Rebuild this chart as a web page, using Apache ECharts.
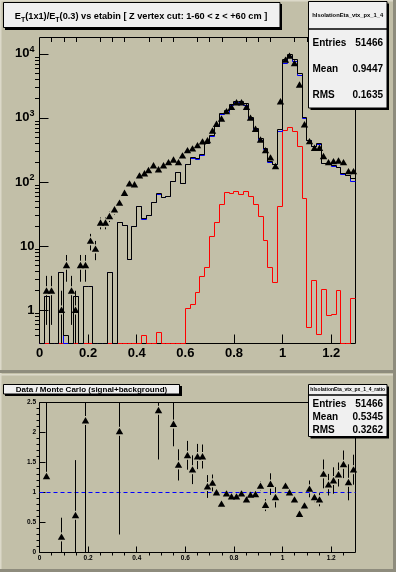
<!DOCTYPE html>
<html><head><meta charset="utf-8">
<script src="https://cdn.jsdelivr.net/npm/echarts@6/dist/echarts.min.js"></script>
<style>html,body{margin:0;padding:0;background:#c2bfa8;}#c{width:396px;height:572px;}</style>
</head><body><div id="c"></div>
<script>
const FONT = '"Liberation Sans", Arial, Helvetica, sans-serif';

// binning of the eta-bin histograms
const xMin = 0, xMax = 1.3, binWidth = 0.02;

// data counts per bin (0 = empty bin)
const dataCounts = [0, 2, 2, 0, 1, 5, 2, 1, 5, 5, 12, 9, 23, 23, 29, 37, 47, 67, 94, 91,
  125, 135, 152, 180, 156, 180, 202, 222, 202, 257, 310, 330, 372, 425, 445, 630, 800, 968, 1260, 1470,
  1740, 1740, 1480, 1000, 669, 456, 310, 239, 175, 1800, 8040, 9270, 7130, 3280, 789, 429, 338, 338, 251, 202,
  209, 214, 202, 146, 146];

// Monte Carlo total (signal+background), black
const mcTotal = [0, 1.65, 0, 0, 3.8, 0.4, 0, 1.65, 0, 2.35, 2.35, 0, 0, 0, 3.8, 0, 23, 20.6, 6.1, 20,
  41, 26.5, 30, 47, 65, 58, 60, 102, 138, 93, 188, 237, 230, 265, 405, 530, 760, 1160, 1290, 1620,
  1800, 1780, 1650, 1030, 692, 470, 330, 209, 188, 653, 8240, 9700, 8200, 5000, 1020, 440, 360, 392, 193, 190,
  178, 170, 133, 128, 112];

// Monte Carlo background, blue
const mcBackground = [0, 1.65, 0, 0, 3.8, 0, 0, 1.65, 0, 2.35, 2.35, 0, 0, 0, 3.8, 0, 23, 20.6, 6.1, 20,
  41, 25.5, 30, 47, 64, 58, 60, 102, 138, 93, 186, 235, 226, 260, 400, 515, 735, 1110, 1220, 1560,
  1720, 1710, 1580, 970, 650, 440, 318, 203, 185, 612, 6960, 8950, 7560, 4580, 968, 436, 357, 390, 191, 187,
  173, 168, 131, 126, 101];

// Monte Carlo signal, red
const mcSignal = [0, 0, 0, 0, 0, 0, 0, 0, 0, 0, 0, 0, 0, 0, 0, 0, 0, 0, 0, 0,
  0, 0.4, 0, 0, 0.45, 0, 0, 0, 0, 0, 1.05, 1.21, 1.87, 3.3, 4.6, 14, 23, 44, 68, 65,
  72, 63, 72, 59, 44, 28.5, 12, 4.6, 2.7, 41, 637, 718, 614, 359, 56, 0.54, 2.9, 0.42, 2.1, 0.81,
  0.85, 2.03, 0, 0, 1.52];

// Data / Monte Carlo ratio
const ratioX = [0.03, 0.09, 0.15, 0.19, 0.33, 0.49, 0.55, 0.57, 0.61, 0.63, 0.65, 0.67, 0.69, 0.71, 0.73, 0.75,
  0.77, 0.79, 0.81, 0.83, 0.85, 0.87, 0.89, 0.91, 0.93, 0.95, 0.97, 1.01, 1.03, 1.05, 1.07, 1.09,
  1.11, 1.13, 1.15, 1.17, 1.19, 1.21, 1.23, 1.25, 1.27, 1.29];
const ratioVal = [1.27, 0.26, 0.62, 2.2, 2.02, 2.37, 2.14, 1.46, 1.62, 1.38, 1.6, 1.6, 1.1, 1.16, 1.0, 0.81,
  0.98, 0.93, 0.93, 0.98, 0.88, 0.96, 0.97, 1.11, 0.79, 1.14, 0.92, 1.11, 1.0, 0.88, 0.64, 0.78,
  1.06, 0.92, 0.88, 1.31, 1.13, 1.2, 1.3, 1.47, 1.17, 1.38];
const ratioErrLow = [0.05, 0.32, 0.92, 2.3, 1.72, 0.82, 0.37, 0.26, 0.24, 0.24, 0.21, 0.2, 0.19, 0.14, 0.07, 0.06,
  0.05, 0.04, 0.04, 0.04, 0.05, 0.05, 0.06, 0.08, 0.1, 0.18, 0.17, 0.07, 0.03, 0.03, 0.03, 0.05,
  0.14, 0.08, 0.11, 0.24, 0.18, 0.22, 0.2, 0.23, 0.3, 0.25];
const ratioErrHigh = [1.5, 0.32, 0.92, 2.3, 1.72, 0.82, 0.37, 0.26, 0.24, 0.24, 0.21, 0.2, 0.19, 0.14, 0.07, 0.06,
  0.05, 0.04, 0.04, 0.04, 0.05, 0.05, 0.06, 0.08, 0.1, 0.18, 0.17, 0.07, 0.03, 0.03, 0.03, 0.05,
  0.14, 0.08, 0.11, 0.24, 0.18, 0.22, 0.2, 0.23, 0.3, 0.25];

// axis ticks / labels
const xMajorTicks = [0, 0.2, 0.4, 0.6, 0.8, 1.0, 1.2];
const yLogMajorTicks = [1, 10, 100, 1000, 10000];
const ratioMajorTicks = [0, 0.5, 1, 1.5, 2, 2.5];
const topYMin = 0.3, topYMax = 18000;
const ratioYMin = 0, ratioYMax = 2.5;

// texts
const topTitle = '{n|E}{t|T}{n|(1x1)/E}{t|T}{n|(0.3) vs etabin [ Z vertex cut: 1-60 < z < +60 cm ]}';
const bottomTitle = 'Data / Monte Carlo (signal+background)';
const topStats = {name: 'hIsolationEta_vtx_px_1_4', rows: [['Entries', '51466'], ['Mean', '0.9447'], ['RMS', '0.1635']]};
const botStats = {name: 'hIsolationEta_vtx_px_1_4_ratio', rows: [['Entries', '51466'], ['Mean', '0.5345'], ['RMS', '0.3262']]};

// ---------- helpers ----------
function r4(v) { return Math.round(v * 10000) / 10000; }
function histItems(vals, floor) {
  return vals.map((v, i) => [r4(xMin + i * binWidth), r4(xMin + (i + 1) * binWidth),
    v > 0 ? v : floor, i > 0 && vals[i - 1] > 0 ? vals[i - 1] : floor]);
}
const snap = v => Math.floor(v) + 0.5;
function histRender(color) {
  return function (params, api) {
    const cs = params.coordSys;
    const bot = cs.y + cs.height;
    const a = api.coord([api.value(0), api.value(2)]);
    const b = api.coord([api.value(1), api.value(2)]);
    const p = api.coord([api.value(0), api.value(3)]);
    const y = snap(Math.min(a[1], bot)), yp = snap(Math.min(p[1], bot));
    const xa = snap(a[0]), xb = snap(b[0]);
    return {type: 'polyline', shape: {points: [[xa, yp], [xa, y], [xb, y]]},
      style: {stroke: color, lineWidth: 1, fill: null}};
  };
}

const xMinorTicks = [];
for (let k = 1; k < 26; k++) { const v = r4(k * 0.05); if (k % 4 !== 0) xMinorTicks.push(v); }
const yLogMinorTicks = [];
for (let d = -1; d <= 4; d++) for (let m = 2; m <= 9; m++) { const v = r4(m * Math.pow(10, d)); if (v > topYMin && v < topYMax) yLogMinorTicks.push(v); }
const ratioMinorTicks = [];
for (let k = 1; k < 25; k++) { if (k % 5 !== 0) ratioMinorTicks.push(r4(k * 0.1)); }

const dataPoints = [];
dataCounts.forEach((n, i) => { if (n > 0) { const e = Math.sqrt(n); dataPoints.push([r4(xMin + (i + 0.5) * binWidth), n, e, e]); } });
const ratioPoints = ratioX.map((x, i) => [x, ratioVal[i], ratioErrLow[i], ratioErrHigh[i]]);

function markerRender(params, api, ymin) {
  const cs = params.coordSys;
  const x = api.value(0), y = api.value(1), el = api.value(2), eh = api.value(3);
  const c = api.coord([x, y]);
  const top = cs.y, bot = cs.y + cs.height;
  let yHi = api.coord([x, y + eh])[1];
  let yLo = (y - el) > ymin ? api.coord([x, y - el])[1] : bot;
  if (!isFinite(yLo)) yLo = bot;
  yHi = Math.max(yHi, top); yLo = Math.min(yLo, bot);
  const gap = 4.5;
  const kids = [];
  const cx = snap(c[0]);
  if (yHi < c[1] - gap) kids.push({type: 'line', shape: {x1: cx, y1: yHi, x2: cx, y2: c[1] - gap}, style: {stroke: '#000', lineWidth: 1}});
  if (yLo > c[1] + gap) kids.push({type: 'line', shape: {x1: cx, y1: c[1] + gap, x2: cx, y2: yLo}, style: {stroke: '#000', lineWidth: 1}});
  kids.push({type: 'polygon', shape: {points: [[cx - 3.7, c[1] + 2.9], [cx + 3.7, c[1] + 2.9], [cx, c[1] - 3.5]]}, style: {fill: '#000'}});
  return {type: 'group', children: kids};
}

const labelBase = {fontFamily: FONT, fontWeight: 'bold', color: '#000'};

function statBox(x, y, w, h, headH, stats, headSize, rowSize, rowYs) {
  const els = [];
  els.push({type: 'rect', shape: {x: x + 2, y: y + 2, width: w, height: h}, style: {fill: '#000'}, z: 100});
  els.push({type: 'rect', shape: {x: x, y: y, width: w, height: h}, style: {fill: '#f0f0f0', stroke: '#000', lineWidth: 1}, z: 101});
  els.push({type: 'line', shape: {x1: x, y1: y + headH, x2: x + w, y2: y + headH}, style: {stroke: '#000', lineWidth: 1.5}, z: 102});
  els.push({type: 'text', style: {text: stats.name, x: x + w / 2, y: y + headH / 2, align: 'center', verticalAlign: 'middle', fontFamily: FONT, fontWeight: 'bold', fontSize: headSize, fill: '#000'}, z: 102});
  stats.rows.forEach((r, i) => {
    els.push({type: 'text', style: {text: r[0], x: x + 4, y: rowYs[i], align: 'left', verticalAlign: 'middle', fontFamily: FONT, fontWeight: 'bold', fontSize: rowSize, fill: '#000'}, z: 102});
    els.push({type: 'text', style: {text: r[1], x: x + w - 4, y: rowYs[i], align: 'right', verticalAlign: 'middle', fontFamily: FONT, fontWeight: 'bold', fontSize: rowSize, fill: '#000'}, z: 102});
  });
  return els;
}

const graphics = [
  // pad bevels
  {type: 'rect', shape: {x: 0, y: 0, width: 396, height: 1.5}, style: {fill: '#dcd9c9'}, z: 1},
  {type: 'rect', shape: {x: 0, y: 0, width: 1.5, height: 572}, style: {fill: '#dcd9c9'}, z: 1},
  {type: 'rect', shape: {x: 393, y: 0, width: 3, height: 572}, style: {fill: '#8e8c7d'}, z: 1},
  {type: 'rect', shape: {x: 0, y: 370, width: 396, height: 3}, style: {fill: '#8e8c7d'}, z: 1},
  {type: 'rect', shape: {x: 0, y: 374, width: 393, height: 1.5}, style: {fill: '#dcd9c9'}, z: 1},
  {type: 'rect', shape: {x: 0, y: 569, width: 396, height: 3}, style: {fill: '#8e8c7d'}, z: 1},
  // top title box
  {type: 'rect', shape: {x: 5, y: 4, width: 277, height: 26}, style: {fill: '#000'}, z: 100},
  {type: 'rect', shape: {x: 3.5, y: 2.5, width: 276.5, height: 25}, style: {fill: '#f0f0f0', stroke: '#000', lineWidth: 1}, z: 101},
  {type: 'text', z: 102, style: {text: topTitle, x: 141, y: 16.5, align: 'center', verticalAlign: 'middle',
    rich: {
      n: {fontFamily: FONT, fontWeight: 'bold', fontSize: 9.2, fill: '#000', lineHeight: 14},
      t: {fontFamily: FONT, fontWeight: 'bold', fontSize: 7, fill: '#000', lineHeight: 7, verticalAlign: 'bottom'}
    }}},
  // bottom title box
  {type: 'rect', shape: {x: 5, y: 386, width: 177, height: 10}, style: {fill: '#000'}, z: 100},
  {type: 'rect', shape: {x: 3.5, y: 384.5, width: 176, height: 9.5}, style: {fill: '#f0f0f0', stroke: '#000', lineWidth: 1}, z: 101},
  {type: 'text', z: 102, style: {text: bottomTitle, x: 91.5, y: 389.5, align: 'center', verticalAlign: 'middle', fontFamily: FONT, fontWeight: 'bold', fontSize: 8, fill: '#000'}}
].concat(
  statBox(308.5, 1.5, 78.5, 106.5, 27.5, topStats, 5.8, 10, [43, 69, 95.5]),
  statBox(308.5, 384.5, 78.5, 52, 10.5, botStats, 5, 10, [404.5, 417.5, 430.5])
);

function majorX(grid, len, fs, margin) {
  return {type: 'value', gridIndex: grid, min: xMin, max: xMax,
    axisLine: {show: false}, splitLine: {show: false},
    axisTick: {show: true, inside: true, length: len, customValues: xMajorTicks, lineStyle: {color: '#000', width: 1}},
    axisLabel: Object.assign({fontSize: fs, margin: margin, customValues: xMajorTicks}, labelBase)};
}
function minorX(grid, len) {
  return {type: 'value', gridIndex: grid, min: xMin, max: xMax,
    axisLine: {show: false}, splitLine: {show: false}, axisLabel: {show: false},
    axisTick: {show: true, inside: true, length: len, customValues: xMinorTicks, lineStyle: {color: '#000', width: 1}}};
}

const option = {
  backgroundColor: '#c2bfa8',
  animation: false,
  textStyle: {fontFamily: FONT},
  grid: [
    {left: 39.5, top: 37.5, width: 316, height: 306, show: true, borderColor: '#000', borderWidth: 1, backgroundColor: 'transparent'},
    {left: 39.5, top: 402.5, width: 316, height: 150, show: true, borderColor: '#000', borderWidth: 1, backgroundColor: 'transparent'}
  ],
  xAxis: [majorX(0, 9, 13, 3), minorX(0, 4.5), majorX(1, 6, 6.5, 2), minorX(1, 3)],
  yAxis: [
    {type: 'log', logBase: 10, gridIndex: 0, min: topYMin, max: topYMax,
      axisLine: {show: false}, splitLine: {show: false},
      axisTick: {show: true, inside: true, length: 9, customValues: yLogMajorTicks, lineStyle: {color: '#000'}},
      axisLabel: {margin: 5, customValues: yLogMajorTicks,
        formatter: function (v) { const e = Math.round(Math.log10(v)); return e <= 1 ? '{b|' + Math.round(v) + '}' : '{b|10}{s|' + e + '}'; },
        rich: {
          b: {fontFamily: FONT, fontWeight: 'bold', fontSize: 13, color: '#000', lineHeight: 17},
          s: {fontFamily: FONT, fontWeight: 'bold', fontSize: 9, color: '#000', lineHeight: 6, verticalAlign: 'top'}
        }}},
    {type: 'log', logBase: 10, gridIndex: 0, min: topYMin, max: topYMax,
      axisLine: {show: false}, splitLine: {show: false}, axisLabel: {show: false},
      axisTick: {show: true, inside: true, length: 4.5, customValues: yLogMinorTicks, lineStyle: {color: '#000'}}},
    {type: 'value', gridIndex: 1, min: ratioYMin, max: ratioYMax,
      axisLine: {show: false}, splitLine: {show: false},
      axisTick: {show: true, inside: true, length: 6, customValues: ratioMajorTicks, lineStyle: {color: '#000'}},
      axisLabel: Object.assign({fontSize: 6.5, margin: 3.5, customValues: ratioMajorTicks}, labelBase)},
    {type: 'value', gridIndex: 1, min: ratioYMin, max: ratioYMax,
      axisLine: {show: false}, splitLine: {show: false}, axisLabel: {show: false},
      axisTick: {show: true, inside: true, length: 3, customValues: ratioMinorTicks, lineStyle: {color: '#000'}}}
  ],
  graphic: graphics,
  series: [
    {type: 'custom', name: 'signal', xAxisIndex: 0, yAxisIndex: 0, silent: true, encode: {x: [0, 1], y: 2},
      renderItem: histRender('#ff0000'), data: histItems(mcSignal, topYMin), z: 2},
    {type: 'custom', name: 'background', xAxisIndex: 0, yAxisIndex: 0, silent: true, encode: {x: [0, 1], y: 2},
      renderItem: histRender('#0000ff'), data: histItems(mcBackground, topYMin), z: 3},
    {type: 'custom', name: 'total', xAxisIndex: 0, yAxisIndex: 0, silent: true, encode: {x: [0, 1], y: 2},
      renderItem: histRender('#000000'), data: histItems(mcTotal, topYMin), z: 4},
    {type: 'custom', name: 'data', xAxisIndex: 0, yAxisIndex: 0, silent: true,
      renderItem: function (p, api) { return markerRender(p, api, topYMin); },
      encode: {x: 0, y: 1}, data: dataPoints, z: 5},
    {type: 'line', name: 'unity', xAxisIndex: 2, yAxisIndex: 2, showSymbol: false, silent: true,
      data: [[xMin, 1], [xMax, 1]], lineStyle: {color: '#0000ff', width: 1, type: [4, 3]}},
    {type: 'custom', name: 'ratio', xAxisIndex: 2, yAxisIndex: 2, silent: true,
      renderItem: function (p, api) { return markerRender(p, api, -1e9); },
      encode: {x: 0, y: 1}, data: ratioPoints, z: 5}
  ]
};
const chart = echarts.init(document.getElementById('c'), null, {renderer: 'canvas'});
chart.setOption(option);
</script></body></html>
